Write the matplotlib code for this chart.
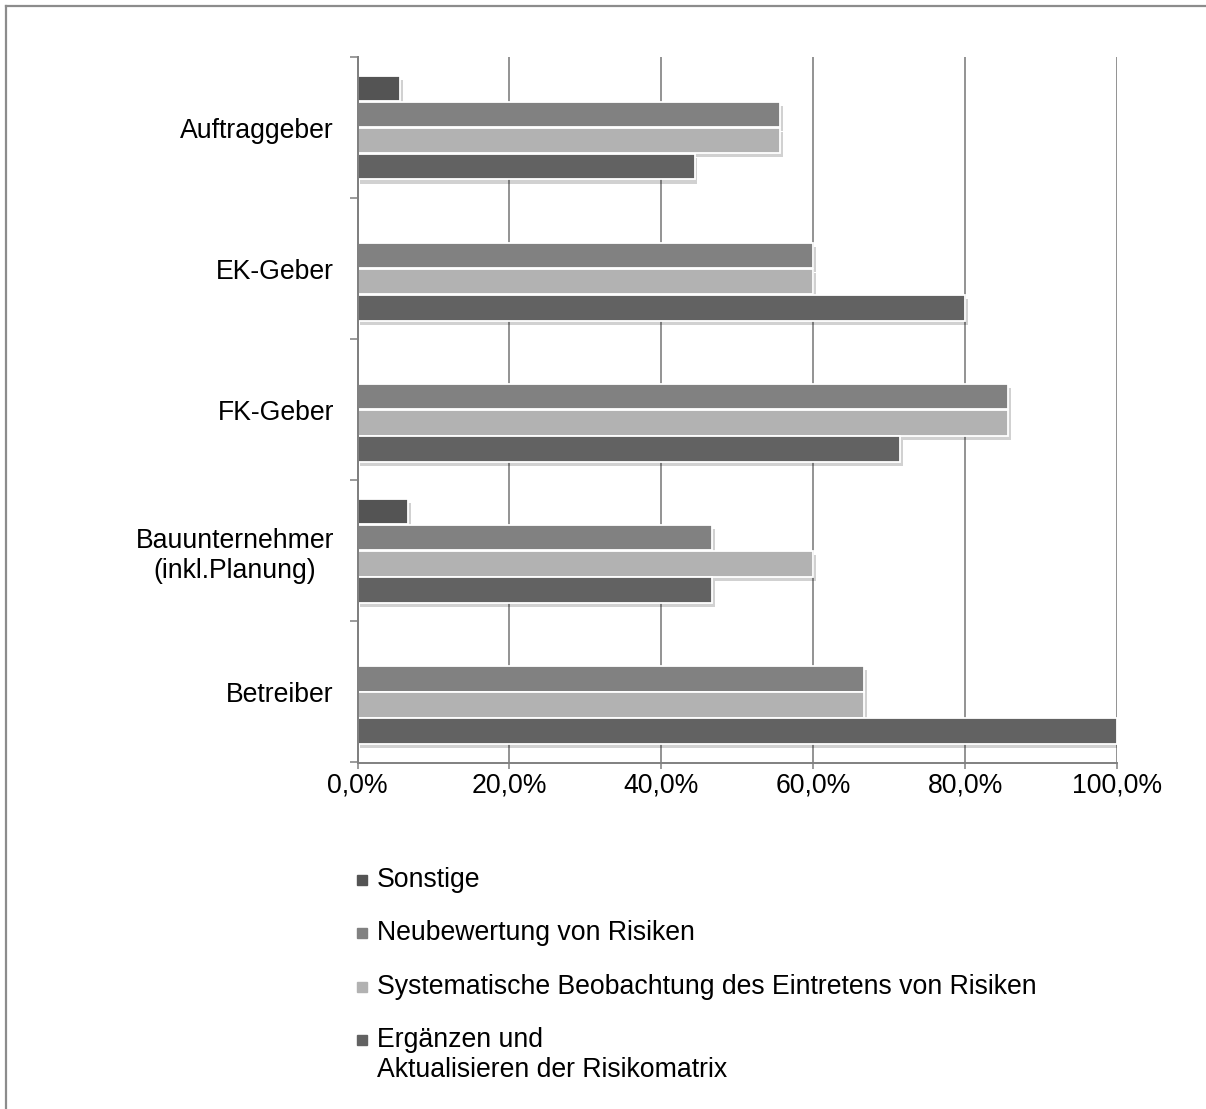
import matplotlib

matplotlib.use("Agg")
import matplotlib.pyplot as plt
import matplotlib.patheffects as pe
import numpy as np
from matplotlib.lines import Line2D
from matplotlib.patches import Rectangle
from matplotlib.ticker import FuncFormatter

plt.rcParams["font.family"] = ["Liberation Sans", "DejaVu Sans"]

# --- data (share of respondents, %) ------------------------------------------
categories = ["Auftraggeber", "EK-Geber", "FK-Geber",
              "Bauunternehmer\n(inkl.Planung)", "Betreiber"]
series = ["Sonstige",
          "Neubewertung von Risiken",
          "Systematische Beobachtung des Eintretens von Risiken",
          "Ergänzen und\nAktualisieren der Risikomatrix"]
sonstige = [5.6, 0.0, 0.0, 6.7, 0.0]
neubewertung = [55.6, 60.0, 85.7, 46.7, 66.7]
beobachtung = [55.6, 60.0, 85.7, 60.0, 66.7]
ergaenzen = [44.4, 80.0, 71.4, 46.7, 100.0]
x_ticks = [0, 20, 40, 60, 80, 100]

colors = ["#545454", "#818181", "#b2b2b2", "#626262"]
values = [sonstige, neubewertung, beobachtung, ergaenzen]
FS = 19.2

W, H = 1206, 1109
fig = plt.figure(figsize=(W / 100, H / 100), dpi=100)
ax = fig.add_axes([357.5 / W, 1 - 762.5 / H, (1117 - 357.5) / W, (762.5 - 57) / H])

y = np.arange(len(categories))
step, height = 0.185, 0.18
offsets = (np.arange(len(series)) - 1.5) * step
shadow = [pe.SimplePatchShadow(offset=(2, -3), shadow_rgbFace="#000000", alpha=0.18),
          pe.Normal()]
for vals, off, col in zip(values, offsets, colors):
    bars = ax.barh(y + off, vals, height=height, color=col,
                   edgecolor="white", linewidth=1.3, zorder=3)
    for b in bars:
        if b.get_width() > 0:
            b.set_path_effects(shadow)

ax.set_xlim(0, 100)
ax.set_ylim(len(categories) - 0.5, -0.5)

grey = "#808080"
ax.set_xticks(x_ticks)
ax.xaxis.set_major_formatter(FuncFormatter(lambda v, _: f"{v:.1f}%".replace(".", ",")))
ax.grid(axis="x", color=grey, lw=1.2, zorder=0)
ax.tick_params(axis="x", length=4.5, width=1.1, color=grey, pad=3, labelsize=FS)

ax.set_yticks(y)
ax.set_yticklabels(categories, multialignment="center")
ax.set_yticks(np.arange(len(categories) + 1) - 0.5, minor=True)
ax.tick_params(axis="y", which="major", length=0, pad=17, labelsize=FS)
ax.tick_params(axis="y", which="minor", length=6, width=1.1, color=grey)

for side in ["top", "right"]:
    ax.spines[side].set_visible(False)
for side in ["left", "bottom"]:
    ax.spines[side].set_color(grey)
    ax.spines[side].set_linewidth(1.4)
    ax.spines[side].set_zorder(4)
# category axis line, drawn explicitly so it shows between the bar groups
ax.axvline(0, color=grey, lw=1.4, zorder=4, clip_on=False)

# legend, stacked below the plot
leg_rows = [880, 933, 987, 1040]
for name, col, row in zip(series, colors, leg_rows):
    fig.patches.append(Rectangle((357 / W, 1 - (row + 5) / H), 10 / W, 10 / H,
                                 transform=fig.transFigure, color=col))
    fig.text(377 / W, 1 - (row - 13) / H, name, fontsize=FS, va="top",
             linespacing=1.2)

# outer frame (only top/left edges visible)
fig.add_artist(Line2D([6 / W, 1], [1 - 6 / H, 1 - 6 / H], color="#8c8c8c", lw=1.6))
fig.add_artist(Line2D([6 / W, 6 / W], [0, 1 - 6 / H], color="#8c8c8c", lw=1.6))

fig.savefig("out.png", dpi=100)
